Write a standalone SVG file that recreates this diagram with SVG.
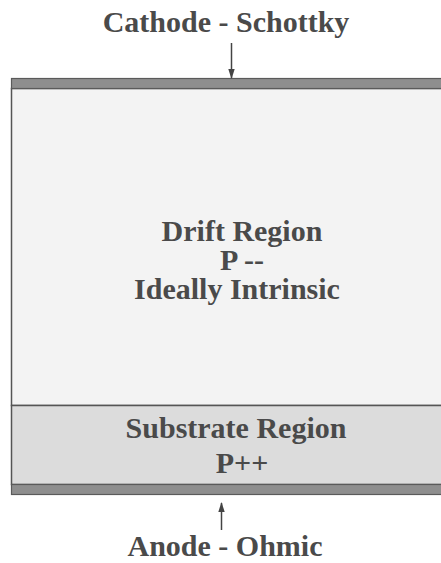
<svg xmlns="http://www.w3.org/2000/svg" width="441" height="563" viewBox="0 0 441 563">
<style>
.t{font-family:"Liberation Serif","Times New Roman",serif;font-weight:bold;font-size:30px;fill:#4a4a4a;text-anchor:middle}
.bar{fill:#8e8e8e;stroke:#5a5a5a;stroke-width:1.2}
.ln{stroke:#444;stroke-width:1.5;fill:none}
</style>
<defs>
<marker id="ah" viewBox="0 0 10 10" refX="9" refY="5" markerWidth="10" markerHeight="8" markerUnits="userSpaceOnUse" orient="auto" preserveAspectRatio="none"><path d="M0,1 L10,5 L0,9 Z" fill="#444"/></marker>
</defs>
<rect width="441" height="563" fill="#ffffff"/>
<g id="drift">
<rect x="11.5" y="88.5" width="440" height="317" fill="#f3f3f3" stroke="#555" stroke-width="1.5"/>
<text class="t" x="242" y="241">Drift Region</text>
<text class="t" x="242" y="270">P --</text>
<text class="t" x="237" y="299">Ideally Intrinsic</text>
</g>
<g id="substrate">
<rect x="11.5" y="405.5" width="440" height="79" fill="#dcdcdc" stroke="#555" stroke-width="1.5"/>
<text class="t" x="236" y="438">Substrate Region</text>
<text class="t" x="242" y="473">P++</text>
</g>
<g id="cathode">
<rect class="bar" x="11.5" y="78.5" width="440" height="10"/>
<text class="t" x="226" y="32">Cathode - Schottky</text>
</g>
<g id="anode">
<rect class="bar" x="11.5" y="484.5" width="440" height="10"/>
<text class="t" x="225" y="556">Anode - Ohmic</text>
</g>
<g id="connectors">
<line class="ln" x1="231.5" y1="43" x2="231.5" y2="78" marker-end="url(#ah)"/>
<line class="ln" x1="221.5" y1="530" x2="221.5" y2="503" marker-end="url(#ah)"/>
</g>
</svg>
